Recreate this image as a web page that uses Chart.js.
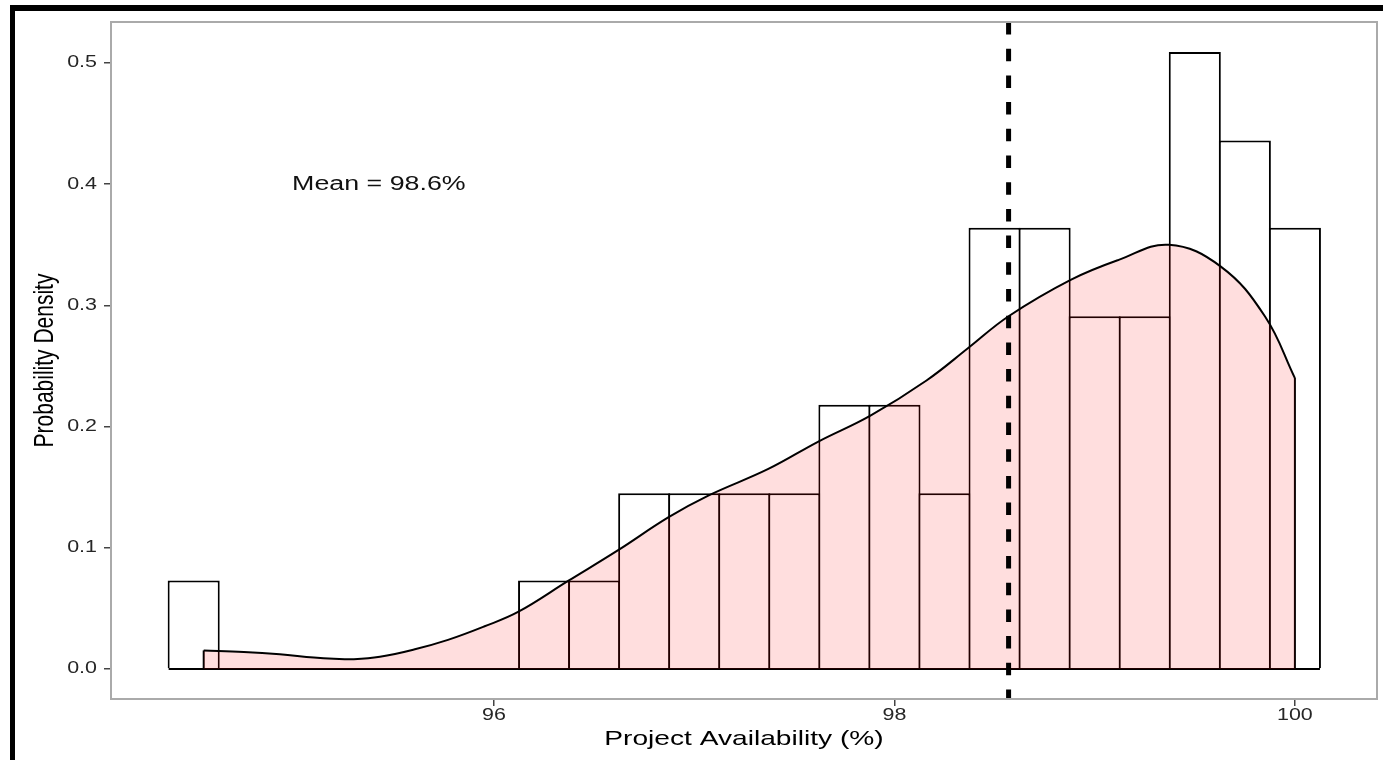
<!DOCTYPE html>
<html>
<head>
<meta charset="utf-8">
<title>Project Availability</title>
<script src="https://cdn.jsdelivr.net/npm/chart.js@4.4.1/dist/chart.umd.min.js"></script>
<style>
  html, body { margin: 0; padding: 0; background: #fff; }
  #wrap { position: relative; width: 1383px; height: 760px; overflow: hidden; }
  #chart { display: block; }
  #frameTop { position: absolute; left: 10px; top: 5px; right: 0; height: 6px; background: #000; }
  #frameLeft { position: absolute; left: 10px; top: 5px; width: 5px; bottom: 0; background: #000; }
</style>
</head>
<body>
<div id="wrap">
  <canvas id="chart"></canvas>
  <div id="frameTop"></div>
  <div id="frameLeft"></div>
</div>
<script>
// --- DATOS ---
// Histograma: centro de cada clase (ancho 0.25) y densidad
const binCenters = [94.5, 94.75, 95.0, 95.25, 95.5, 95.75, 96.0, 96.25, 96.5, 96.75, 97.0, 97.25,
                    97.5, 97.75, 98.0, 98.25, 98.5, 98.75, 99.0, 99.25, 99.5, 99.75, 100.0];
const binDensity = [0.073, 0, 0, 0, 0, 0, 0, 0.073, 0.073, 0.145, 0.145, 0.145,
                    0.145, 0.218, 0.218, 0.145, 0.364, 0.364, 0.291, 0.291, 0.509, 0.436, 0.364];
const binWidth = 0.25;

// Curva de densidad (kernel)
const densityX = [94.55, 94.75, 94.93, 95.1, 95.2, 95.3, 95.43, 95.6, 95.77, 95.95, 96.12, 96.37,
                  96.62, 96.87, 97.07, 97.37, 97.62, 97.88, 98.16, 98.37, 98.57, 98.88, 99.12,
                  99.37, 99.63, 99.85, 100.0];
const densityY = [0.0153, 0.0140, 0.0121, 0.0095, 0.0085, 0.0081, 0.0100, 0.0160, 0.0240, 0.0350, 0.047, 0.0726,
                  0.098, 0.125, 0.143, 0.165, 0.1876, 0.209, 0.238, 0.265, 0.291, 0.321, 0.3375,
                  0.350, 0.332, 0.291, 0.24];

const meanValue = 98.57;
const meanLabel = 'Mean = 98.6%';
const meanLabelPos = [95.425, 0.4];

const xTicks = [96, 98, 100];
const yTicks = [0.0, 0.1, 0.2, 0.3, 0.4, 0.5];
const xRange = [94.087, 100.41];
const yRange = [-0.0248, 0.5338];
const xTitle = 'Project Availability (%)';
const yTitle = 'Probability Density';

// --- ESTILO ---
const FONT = '"Liberation Sans", Arial, Helvetica, sans-serif';
const TEXT_STRETCH = 1.34; // el original esta estirado en horizontal

function stretchedText(ctx, text, x, y, o) {
  ctx.save();
  ctx.translate(x, y);
  ctx.scale(TEXT_STRETCH, 1);
  if (o.rotate) ctx.rotate(o.rotate);
  ctx.font = o.font;
  ctx.fillStyle = o.color;
  ctx.textAlign = o.align || 'center';
  ctx.textBaseline = o.baseline || 'middle';
  ctx.fillText(text, 0, 0);
  ctx.restore();
}

// Marco del panel y todos los textos
const textPlugin = {
  id: 'textos',
  afterDraw(chart) {
    const { ctx, chartArea: a, scales: { x, y } } = chart;
    ctx.save();
    ctx.strokeStyle = '#aaaaaa';
    ctx.lineWidth = 2;
    ctx.strokeRect(a.left, a.top, a.right - a.left, a.bottom - a.top);
    ctx.restore();

    yTicks.forEach(v => stretchedText(ctx, v.toFixed(1), a.left - 14, y.getPixelForValue(v),
      { font: '16px ' + FONT, color: '#262626', align: 'right' }));
    xTicks.forEach(v => stretchedText(ctx, String(v), x.getPixelForValue(v), a.bottom + 17,
      { font: '16px ' + FONT, color: '#262626' }));

    stretchedText(ctx, xTitle, (a.left + a.right) / 2, a.bottom + 40,
      { font: '21px ' + FONT, color: '#000' });
    stretchedText(ctx, yTitle, 53, (a.top + a.bottom) / 2,
      { font: '21px ' + FONT, color: '#000', rotate: -Math.PI / 2, baseline: 'alphabetic' });

    stretchedText(ctx, meanLabel, x.getPixelForValue(meanLabelPos[0]), y.getPixelForValue(meanLabelPos[1]),
      { font: '20px ' + FONT, color: '#111' });
  }
};

const lastBin = binCenters.length - 1;
const lastDen = densityX.length - 1;

new Chart(document.getElementById('chart'), {
  type: 'bar',
  data: {
    datasets: [
      {
        type: 'line', label: 'Mean',
        data: [{ x: meanValue, y: yRange[1] }, { x: meanValue, y: yRange[0] }],
        borderColor: '#000', borderWidth: 5, borderDash: [12.5, 14.2], borderCapStyle: 'butt',
        pointRadius: 0, order: 0
      },
      {
        type: 'line', label: 'Density',
        data: densityX.map((v, i) => ({ x: v, y: densityY[i] })),
        borderColor: '#000', borderWidth: 2, backgroundColor: 'rgba(255,0,0,0.13)',
        fill: 'origin', tension: 0.4, pointRadius: 0, order: 1
      },
      {
        type: 'line', label: 'Density start',
        data: [{ x: densityX[0], y: 0 }, { x: densityX[0], y: densityY[0] }],
        borderColor: '#000', borderWidth: 2, pointRadius: 0, order: 1
      },
      {
        type: 'line', label: 'Density end',
        data: [{ x: densityX[lastDen], y: 0 }, { x: densityX[lastDen], y: densityY[lastDen] }],
        borderColor: '#000', borderWidth: 2, pointRadius: 0, order: 1
      },
      {
        type: 'line', label: 'Baseline',
        data: [{ x: binCenters[0] - binWidth / 2, y: 0 }, { x: binCenters[lastBin] + binWidth / 2, y: 0 }],
        borderColor: '#000', borderWidth: 2, pointRadius: 0, order: 2
      },
      {
        type: 'bar', label: 'Histogram',
        data: binCenters.map((v, i) => ({ x: v, y: binDensity[i] })),
        backgroundColor: '#fff', borderColor: '#000', borderWidth: 2, borderSkipped: 'start',
        barPercentage: 1.04, categoryPercentage: 1, order: 3
      }
    ]
  },
  options: {
    responsive: true,
    maintainAspectRatio: false,
    animation: false,
    layout: { padding: { left: 0, top: 22, right: 6, bottom: 0 } },
    plugins: { legend: { display: false }, tooltip: { enabled: false } },
    scales: {
      x: {
        type: 'linear', min: xRange[0], max: xRange[1], offset: false,
        afterBuildTicks: s => { s.ticks = xTicks.map(v => ({ value: v })); },
        afterFit: s => { s.height = 61; },
        ticks: { display: false },
        grid: { offset: false, drawOnChartArea: false, drawTicks: true, tickLength: 7, color: '#444', lineWidth: 1.5 },
        border: { display: false }
      },
      y: {
        type: 'linear', min: yRange[0], max: yRange[1],
        afterBuildTicks: s => { s.ticks = yTicks.map(v => ({ value: v })); },
        afterFit: s => { s.width = 111; },
        ticks: { display: false },
        grid: { drawOnChartArea: false, drawTicks: true, tickLength: 7, color: '#444', lineWidth: 1.5 },
        border: { display: false }
      }
    }
  },
  plugins: [textPlugin]
});
</script>
</body>
</html>
